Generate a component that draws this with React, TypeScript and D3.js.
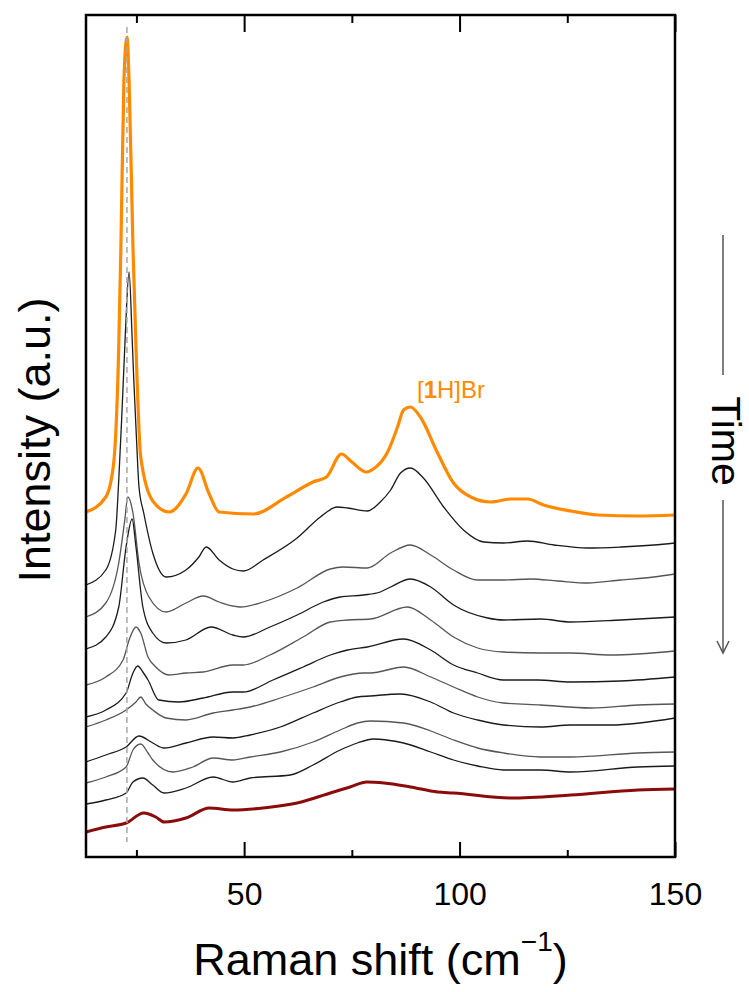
import * as d3 from 'd3';
import { useEffect, useRef } from 'react';

// Raman shift (cm-1) / intensity (a.u., arbitrary offset units)
const shiftMajorTicks = [50, 100, 150];
const shiftMinorTicks = [25, 75, 125];
const refPeakShift = 22.8;

const spectrumHBr = [
  [13.3, 345], [17.9, 360], [19.7, 393], [20.9, 510], [21.4, 610], [22.1, 776], [22.8, 820],
  [23.3, 776], [24.2, 610], [24.9, 510], [26.0, 400], [28.8, 356], [32.6, 345], [36.5, 363],
  [39.3, 389], [41.9, 363], [44.2, 345], [52.1, 343], [59.8, 360], [66.0, 375], [69.1, 380],
  [72.6, 403], [75.0, 395], [78.4, 385], [80.0, 388], [83.3, 405], [85.6, 430], [87.0, 447],
  [88.6, 450], [90.9, 440], [94.9, 404], [98.6, 374], [102.6, 360], [107.2, 355], [111.9, 358],
  [115.8, 358], [119.5, 352], [125.8, 346], [132.1, 342], [141.4, 341], [150, 342],
];

const scan1 = [
  [13.3, 272], [17.9, 287], [20.2, 327], [20.9, 377], [21.6, 440], [22.4, 520], [23.3, 585],
  [24.0, 520], [24.4, 476], [25.0, 420], [25.6, 370], [26.7, 344], [28.8, 304], [31.9, 280],
  [36.5, 287], [39.5, 300], [41.2, 310], [44.2, 297], [47.4, 288], [49.8, 286], [54.4, 297],
  [62.3, 319], [67.7, 340], [71.6, 350], [74.0, 349], [78.6, 346], [81.6, 355], [84.0, 367],
  [86.3, 384], [88.6, 389], [91.6, 379], [96.3, 350], [100.9, 327], [105.6, 315], [110.2, 314],
  [115.8, 316], [121.9, 312], [129.8, 309], [137.4, 310], [145.1, 312], [150, 314],
];
const scan2 = [
  [13.3, 240], [17.9, 254], [20.9, 294], [22.3, 337], [23.0, 360], [24.2, 344], [25.6, 294],
  [27.9, 260], [31.9, 245], [36.5, 254], [40.5, 261], [44.2, 255], [47.4, 251], [49.1, 250],
  [54.4, 255], [62.3, 269], [70.0, 288], [73.0, 290], [78.6, 289], [84.0, 304], [88.6, 312],
  [93.3, 302], [98.6, 287], [104.2, 277], [110.2, 277], [116.5, 278], [122.8, 276], [129.8, 274],
  [137.4, 277], [145.1, 280], [150, 283],
];
const scan3 = [
  [13.3, 208], [17.9, 220], [20.9, 250], [22.6, 310], [24.0, 338], [24.9, 310], [26.5, 250],
  [28.8, 224], [31.9, 214], [36.5, 217], [42.3, 230], [47.4, 222], [49.8, 220], [56.0, 230],
  [62.3, 242], [68.4, 255], [72.3, 260], [77.7, 262], [81.6, 265], [84.0, 270], [88.6, 278],
  [93.3, 270], [98.6, 252], [106.5, 239], [110.2, 237], [118.8, 238], [125.8, 235], [137.4, 237],
  [150, 240],
];
const scan4 = [
  [13.3, 172], [17.9, 180], [21.9, 197], [23.3, 217], [24.9, 230], [26.0, 224], [27.7, 200],
  [29.5, 190], [32.6, 182], [36.5, 184], [40.5, 185], [47.4, 192], [49.8, 192], [56.0, 202],
  [63.7, 220], [70.0, 235], [74.0, 237], [79.3, 238], [87.9, 250], [93.3, 237], [98.6, 220],
  [104.2, 209], [110.2, 205], [118.8, 204], [125.8, 204], [135.1, 202], [150, 206],
];
const scan5 = [
  [13.3, 140], [17.9, 147], [22.6, 164], [24.2, 184], [25.3, 191], [26.5, 185], [27.7, 177],
  [30.2, 157], [34.9, 155], [40.5, 159], [47.4, 165], [49.8, 165], [56.7, 177], [63.7, 190],
  [70.0, 202], [74.0, 207], [78.6, 210], [87.0, 218], [93.3, 207], [98.6, 192], [104.2, 184],
  [110.2, 177], [118.1, 177], [125.8, 175], [137.4, 176], [150, 180],
];
const scan6 = [
  [13.3, 130], [17.9, 137], [22.6, 147], [24.9, 155], [26.0, 160], [27.2, 153], [28.8, 147],
  [31.9, 139], [36.5, 137], [42.8, 144], [47.4, 147], [51.4, 150], [58.4, 159], [66.0, 170],
  [72.3, 180], [77.7, 184], [79.3, 184], [87.0, 190], [93.3, 180], [98.6, 170], [104.2, 160],
  [110.2, 154], [118.8, 152], [130.5, 149], [141.4, 152], [150, 153],
];
const scan7 = [
  [13.3, 95], [17.9, 102], [22.6, 110], [25.6, 121], [28.8, 114], [31.4, 109], [36.5, 114],
  [42.8, 120], [47.4, 119], [51.4, 122], [58.4, 130], [66.0, 144], [72.3, 155], [76.3, 160],
  [79.3, 161], [86.3, 163], [93.3, 155], [98.6, 144], [104.2, 137], [110.2, 132], [118.8, 130],
  [125.8, 132], [135.1, 132], [150, 139],
];
const scan8 = [
  [13.3, 74], [17.9, 80], [22.6, 90], [24.2, 107], [26.0, 113], [27.7, 104], [28.8, 97],
  [33.5, 85], [38.1, 90], [42.8, 99], [47.4, 97], [51.4, 100], [58.4, 105], [66.0, 115],
  [72.3, 127], [76.3, 134], [79.3, 136], [87.0, 134], [93.3, 126], [98.6, 117], [104.2, 109],
  [110.2, 104], [118.8, 100], [125.8, 100], [141.4, 104], [150, 105],
];
const scan9 = [
  [13.3, 53], [17.9, 57], [22.6, 64], [24.2, 75], [26.5, 79], [28.8, 72], [31.4, 64],
  [36.5, 69], [42.8, 80], [47.4, 75], [51.4, 79], [60.7, 82], [66.0, 92], [72.3, 107],
  [76.3, 114], [80.0, 118], [83.0, 117], [87.0, 114], [93.3, 105], [98.6, 97], [104.2, 91],
  [110.2, 87], [118.8, 87], [125.8, 85], [141.4, 90], [150, 91],
];
const spectrumLast = [
  [13.3, 25], [17.9, 30], [22.6, 34], [26.7, 44], [29.5, 40], [31.4, 35], [36.5, 39],
  [41.9, 49], [47.4, 47], [54.4, 49], [62.3, 54], [70.0, 64], [74.6, 70], [78.5, 75],
  [82.5, 74], [88.6, 70], [94.9, 65], [98.6, 64], [111.9, 59], [125.8, 62], [141.4, 67],
  [150, 68],
];

const timeScans = [scan1, scan2, scan3, scan4, scan5, scan6, scan7, scan8, scan9];

const FONT = "'Liberation Sans', Arial, Helvetica, sans-serif";

export default function App() {
  const ref = useRef<SVGSVGElement>(null);

  useEffect(() => {
    const width = 749;
    const height = 992;
    const margin = { top: 15, right: 74, bottom: 135, left: 86 };

    const svg = d3.select(ref.current);
    svg.selectAll('*').remove();

    const x = d3.scaleLinear().domain([13.3, 150]).range([margin.left, width - margin.right]);
    const y = d3.scaleLinear().domain([0, 842]).range([height - margin.bottom, margin.top]);

    const line = d3.line<number[]>()
      .x(d => x(d[0]))
      .y(d => y(d[1]))
      .curve(d3.curveMonotoneX);

    svg.append('defs').append('clipPath').attr('id', 'plot-clip')
      .append('rect')
      .attr('x', margin.left).attr('y', margin.top)
      .attr('width', width - margin.left - margin.right)
      .attr('height', height - margin.top - margin.bottom);

    const plot = svg.append('g').attr('clip-path', 'url(#plot-clip)');

    // spectra over time
    timeScans.forEach((s, i) => {
      plot.append('path')
        .datum(s)
        .attr('d', line)
        .attr('fill', 'none')
        .attr('stroke', i % 2 === 0 ? '#1a1a1a' : '#555')
        .attr('stroke-width', 1.3)
        .attr('stroke-linejoin', 'round');
    });

    plot.append('path')
      .datum(spectrumLast)
      .attr('d', line)
      .attr('fill', 'none')
      .attr('stroke', '#8b0a0a')
      .attr('stroke-width', 3)
      .attr('stroke-linejoin', 'round');

    plot.append('path')
      .datum(spectrumHBr)
      .attr('d', line)
      .attr('fill', 'none')
      .attr('stroke', '#ff8a00')
      .attr('stroke-width', 3.2)
      .attr('stroke-linejoin', 'round');

    // reference dashed line
    plot.append('line')
      .attr('x1', x(refPeakShift)).attr('x2', x(refPeakShift))
      .attr('y1', y(830)).attr('y2', y(15))
      .attr('stroke', '#a8a8a8')
      .attr('stroke-width', 1.5)
      .attr('stroke-dasharray', '6,4');

    // axes (ticks inward, top mirrored)
    const yBottom = height - margin.bottom;
    const axisStyle = (g: any) => {
      g.select('.domain').remove();
      g.selectAll('line').attr('stroke', '#000').attr('stroke-width', 2);
      g.selectAll('text').attr('font-family', FONT).attr('font-size', 32).attr('fill', '#000');
    };

    svg.append('g')
      .attr('transform', `translate(0,${yBottom})`)
      .call(d3.axisBottom(x).tickValues(shiftMajorTicks).tickSize(-15).tickPadding(25).tickFormat(d3.format('d')))
      .call(axisStyle);
    svg.append('g')
      .attr('transform', `translate(0,${yBottom})`)
      .call(d3.axisBottom(x).tickValues(shiftMinorTicks).tickSize(-7).tickFormat(() => ''))
      .call(axisStyle);
    svg.append('g')
      .attr('transform', `translate(0,${margin.top})`)
      .call(d3.axisTop(x).tickValues(shiftMajorTicks).tickSize(-17).tickFormat(() => ''))
      .call(axisStyle);
    svg.append('g')
      .attr('transform', `translate(0,${margin.top})`)
      .call(d3.axisTop(x).tickValues(shiftMinorTicks).tickSize(-8).tickFormat(() => ''))
      .call(axisStyle);

    // frame
    svg.append('rect')
      .attr('x', margin.left).attr('y', margin.top)
      .attr('width', width - margin.left - margin.right)
      .attr('height', height - margin.top - margin.bottom)
      .attr('fill', 'none')
      .attr('stroke', '#000')
      .attr('stroke-width', 2.5);

    // x title
    const xt = svg.append('text')
      .attr('x', (margin.left + width - margin.right) / 2)
      .attr('y', 975)
      .attr('text-anchor', 'middle')
      .attr('font-family', FONT)
      .attr('font-size', 45)
      .attr('fill', '#000');
    xt.append('tspan').text('Raman shift (cm');
    xt.append('tspan').attr('font-size', 28).attr('dy', -24).text('\u22121');
    xt.append('tspan').attr('dy', 24).text(')');

    // y title
    svg.append('text')
      .attr('transform', 'translate(50,440) rotate(-90)')
      .attr('text-anchor', 'middle')
      .attr('font-family', FONT)
      .attr('font-size', 45)
      .attr('fill', '#000')
      .text('Intensity (a.u.)');

    // label
    const lab = svg.append('text')
      .attr('x', 417).attr('y', 398)
      .attr('font-family', FONT)
      .attr('font-size', 24)
      .attr('fill', '#ff8a00');
    lab.append('tspan').text('[');
    lab.append('tspan').attr('font-weight', 'bold').text('1');
    lab.append('tspan').text('H]Br');

    // time arrow
    const tg = svg.append('g').attr('stroke', '#555').attr('stroke-width', 1.5).attr('fill', 'none');
    tg.append('line').attr('x1', 723).attr('x2', 723).attr('y1', 235).attr('y2', 375);
    tg.append('line').attr('x1', 723).attr('x2', 723).attr('y1', 500).attr('y2', 652);
    tg.append('path').attr('d', 'M717,641 L723,653 L729,641');

    svg.append('text')
      .attr('transform', 'translate(712,441) rotate(90)')
      .attr('text-anchor', 'middle')
      .attr('font-family', FONT)
      .attr('font-size', 41)
      .attr('fill', '#000')
      .text('Time');
  }, []);

  return (
    <svg
      ref={ref}
      width={749}
      height={992}
      style={{ position: 'absolute', left: 0, top: 0, background: '#fff' }}
    />
  );
}
